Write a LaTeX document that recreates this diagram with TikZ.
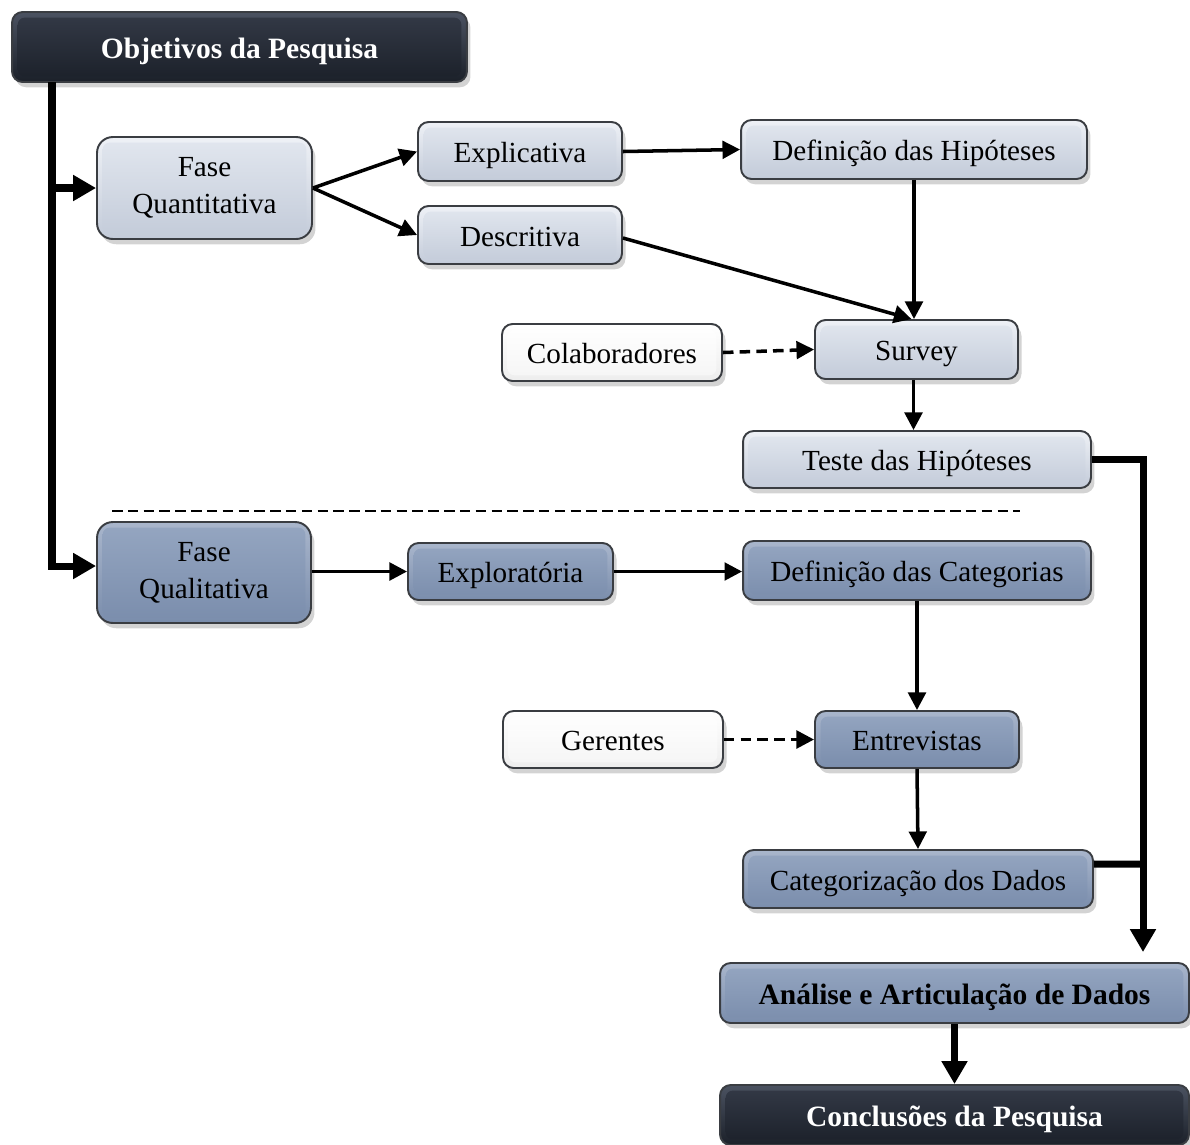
\documentclass[tikz,border=0pt]{standalone}
\usepackage{fontspec}
\setmainfont{Liberation Serif}
\usetikzlibrary{arrows.meta,shadows,calc}

\definecolor{lightband}{HTML}{EEF1F6}
\definecolor{lighttop}{HTML}{E2E7EF}
\definecolor{lightbot}{HTML}{C3CBD9}
\definecolor{midband}{HTML}{A9B6CC}
\definecolor{midtop}{HTML}{95A6C1}
\definecolor{midbot}{HTML}{7A8DAC}
\definecolor{darkband}{HTML}{4B5261}
\definecolor{darktop}{HTML}{343A47}
\definecolor{darkbot}{HTML}{1B2029}
\definecolor{edgegray}{HTML}{3A3D42}

% inner face of a bevelled box
\newcommand\boxface[2]{%
  \shade[top color=#1,bottom color=#2,rounded corners=4pt]
    ([shift={(3.2pt,-3.2pt)}]path picture bounding box.north west) rectangle
    ([shift={(-3.2pt,3.2pt)}]path picture bounding box.south east);}

\tikzset{
  boxbase/.style={rounded corners=6pt, draw=edgegray, line width=1.1pt,
    inner sep=2pt, font=\fontsize{16.6}{21}\selectfont,
    drop shadow={opacity=0.35, shadow xshift=2pt, shadow yshift=-3pt}},
  oneline/.style={text height=16pt, text depth=3pt},
  twolines/.style={align=center, rounded corners=9pt},
  lightbox/.style={boxbase, top color=lightband, bottom color=lightbot,
    path picture={\boxface{lighttop}{lightbot}}},
  midbox/.style={boxbase, top color=midband, bottom color=midbot,
    path picture={\boxface{midtop}{midbot}}},
  boldtext/.style={font=\fontsize{16.8}{20}\selectfont\bfseries},
  darkbox/.style={boxbase, top color=darkband, bottom color=darkbot, text=white,
    boldtext, path picture={\boxface{darktop}{darkbot}}},
  whitebox/.style={boxbase, top color=white, bottom color=white!93!black,
    path picture={\boxface{white}{white!96!black}}},
  thin/.style={line width=2pt, -{Triangle[length=10pt,width=10pt]}},
  dasharrow/.style={thin, dash pattern=on 6pt off 3.5pt},
  thick/.style={line width=4pt},
  thickarrow/.style={thick, -{Triangle[length=13pt,width=14pt]}},
}

\begin{document}
\begin{tikzpicture}[x=0.02cm,y=-0.02cm]
\useasboundingbox (0,0) rectangle (1190,1144);

% boxes
\node[darkbox, oneline, minimum width=9.10cm, minimum height=1.40cm] (obj) at (239.5,47) {Objetivos da Pesquisa};
\node[lightbox, twolines, minimum width=4.30cm, minimum height=2.04cm] (fquant) at (204.5,188) {Fase\\Quantitativa};
\node[lightbox, oneline, minimum width=4.08cm, minimum height=1.18cm] (expl) at (520,151.5) {Explicativa};
\node[lightbox, oneline, minimum width=4.08cm, minimum height=1.16cm] (desc) at (520,235) {Descritiva};
\node[lightbox, oneline, minimum width=6.92cm, minimum height=1.18cm] (defh) at (914,149.5) {Definição das Hipóteses};
\node[whitebox, oneline, minimum width=4.40cm, minimum height=1.14cm] (colab) at (612,352.5) {Colaboradores};
\node[lightbox, oneline, minimum width=4.06cm, minimum height=1.18cm] (survey) at (916.5,349.5) {Survey};
\node[lightbox, oneline, minimum width=6.96cm, minimum height=1.14cm] (teste) at (917,459.5) {Teste das Hipóteses};

\node[midbox, twolines, minimum width=4.28cm, minimum height=2.02cm] (fqual) at (204,572.5) {Fase\\Qualitativa};
\node[midbox, oneline, minimum width=4.10cm, minimum height=1.14cm] (explo) at (510.5,571.5) {Exploratória};
\node[midbox, oneline, minimum width=6.96cm, minimum height=1.18cm] (defc) at (917,570.5) {Definição das Categorias};
\node[whitebox, oneline, minimum width=4.40cm, minimum height=1.14cm] (ger) at (613,739.5) {Gerentes};
\node[midbox, oneline, minimum width=4.08cm, minimum height=1.14cm] (entr) at (917,739.5) {Entrevistas};
\node[midbox, oneline, minimum width=7.00cm, minimum height=1.16cm] (categ) at (918,879) {Categorização dos Dados};
\node[midbox, boldtext, oneline, minimum width=9.38cm, minimum height=1.20cm] (anal) at (954.5,993) {Análise e Articulação de Dados};
\node[darkbox, oneline, minimum width=9.38cm, minimum height=1.20cm] (concl) at (954.5,1115) {Conclusões da Pesquisa};

% separator between the two phases
\draw[line width=0.6pt, dash pattern=on 6pt off 3pt] (112,511) coordinate (sepL) -- (1020,511) coordinate (sepR);

% main trunk from the objectives
\coordinate (trunkTop) at (52,82);
\coordinate (trunkBot) at (52,566);
\coordinate (trunkMid) at (52,188);
\draw[thick] (trunkTop) -- (trunkBot);
\draw[thickarrow] (trunkMid) -- (trunkMid -| fquant.west);
\draw[thickarrow] ([xshift=-2pt]trunkBot) -- (trunkBot -| fqual.west);

% quantitative branch
\draw[thin] (fquant.east) -- (expl.west);
\draw[thin] (fquant.east) -- (desc.west);
\draw[thin] (expl.east) -- (defh.west);
\draw[thin] (defh.south) -- (defh.south |- survey.north);
\draw[thin] ([yshift=-0.06cm]desc.east) -- ([xshift=-0.1cm]survey.north);
\draw[dasharrow] (colab.east) -- (survey.west);
\draw[thin] ([xshift=-0.06cm]survey.south) -- ([xshift=-0.06cm]survey.south |- teste.north);

% qualitative branch
\draw[thin] (fqual.east |- explo.west) -- (explo.west);
\draw[thin] (explo.east) -- (explo.east -| defc.west);
\draw[thin] (defc.south) -- (entr.north);
\draw[dasharrow] (ger.east) -- (entr.west);
\draw[thin] (entr.south) -- (categ.north);

% joining both results into the analysis
\coordinate (rightTop) at (1143,459.5);
\coordinate (rightJoin) at (1143,864);
\draw[thick] (teste.east) -- ([xshift=2pt]rightTop);
\draw[thick] ([yshift=0.3cm]categ.east) -- (rightJoin);
\draw[thickarrow] ([yshift=-2pt]rightTop) -- ([yshift=0.2cm]rightTop |- anal.north);
\draw[thickarrow] (anal.south -| concl.north) -- (concl.north);
\end{tikzpicture}
\end{document}
